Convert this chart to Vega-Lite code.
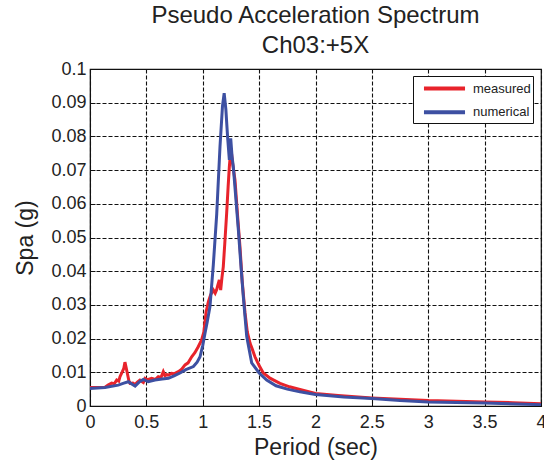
{
  "$schema": "https://vega.github.io/schema/vega-lite/v6.json",
  "autosize": "none",
  "width": 451,
  "height": 337,
  "padding": {"left": 90, "top": 69, "right": 3, "bottom": 59},
  "background": "white",
  "config": {
    "font": "Liberation Sans",
    "view": {"stroke": "#111", "strokeWidth": 1.2},
    "axis": {
      "domainColor": "#111",
      "tickColor": "#111",
      "gridColor": "#111",
      "gridDash": [4, 2],
      "gridWidth": 1.1,
      "gridOpacity": 1,
      "tickSize": -5
    }
  },
  "title": {
    "text": ["Pseudo Acceleration Spectrum", "Ch03:+5X"],
    "font": "Liberation Sans",
    "fontSize": 24,
    "fontWeight": "normal",
    "color": "#222",
    "lineHeight": 30,
    "anchor": "middle",
    "offset": 2
  },
  "data": {
    "values": [
      {"p": 0, "s": 0.0055, "series": "measured"},
      {"p": 0.1, "s": 0.0055, "series": "measured"},
      {"p": 0.133, "s": 0.0056, "series": "measured"},
      {"p": 0.16, "s": 0.0062, "series": "measured"},
      {"p": 0.192, "s": 0.0068, "series": "measured"},
      {"p": 0.215, "s": 0.0066, "series": "measured"},
      {"p": 0.237, "s": 0.0077, "series": "measured"},
      {"p": 0.255, "s": 0.0074, "series": "measured"},
      {"p": 0.266, "s": 0.0087, "series": "measured"},
      {"p": 0.287, "s": 0.0102, "series": "measured"},
      {"p": 0.3, "s": 0.0112, "series": "measured"},
      {"p": 0.31, "s": 0.013, "series": "measured"},
      {"p": 0.32, "s": 0.0115, "series": "measured"},
      {"p": 0.331, "s": 0.0097, "series": "measured"},
      {"p": 0.345, "s": 0.0075, "series": "measured"},
      {"p": 0.355, "s": 0.0067, "series": "measured"},
      {"p": 0.38, "s": 0.0068, "series": "measured"},
      {"p": 0.4, "s": 0.0064, "series": "measured"},
      {"p": 0.42, "s": 0.0071, "series": "measured"},
      {"p": 0.443, "s": 0.0077, "series": "measured"},
      {"p": 0.46, "s": 0.0073, "series": "measured"},
      {"p": 0.473, "s": 0.007, "series": "measured"},
      {"p": 0.488, "s": 0.0082, "series": "measured"},
      {"p": 0.51, "s": 0.0078, "series": "measured"},
      {"p": 0.547, "s": 0.0082, "series": "measured"},
      {"p": 0.58, "s": 0.0079, "series": "measured"},
      {"p": 0.606, "s": 0.0087, "series": "measured"},
      {"p": 0.63, "s": 0.0085, "series": "measured"},
      {"p": 0.65, "s": 0.0102, "series": "measured"},
      {"p": 0.665, "s": 0.009, "series": "measured"},
      {"p": 0.68, "s": 0.0093, "series": "measured"},
      {"p": 0.7, "s": 0.0092, "series": "measured"},
      {"p": 0.724, "s": 0.0097, "series": "measured"},
      {"p": 0.75, "s": 0.0096, "series": "measured"},
      {"p": 0.783, "s": 0.0102, "series": "measured"},
      {"p": 0.81, "s": 0.0108, "series": "measured"},
      {"p": 0.843, "s": 0.0122, "series": "measured"},
      {"p": 0.87, "s": 0.0128, "series": "measured"},
      {"p": 0.902, "s": 0.0146, "series": "measured"},
      {"p": 0.93, "s": 0.0158, "series": "measured"},
      {"p": 0.96, "s": 0.0176, "series": "measured"},
      {"p": 0.99, "s": 0.0196, "series": "measured"},
      {"p": 1.01, "s": 0.022, "series": "measured"},
      {"p": 1.03, "s": 0.028, "series": "measured"},
      {"p": 1.05, "s": 0.031, "series": "measured"},
      {"p": 1.07, "s": 0.033, "series": "measured"},
      {"p": 1.094, "s": 0.0344, "series": "measured"},
      {"p": 1.11, "s": 0.0335, "series": "measured"},
      {"p": 1.124, "s": 0.0346, "series": "measured"},
      {"p": 1.135, "s": 0.036, "series": "measured"},
      {"p": 1.147, "s": 0.0374, "series": "measured"},
      {"p": 1.159, "s": 0.0344, "series": "measured"},
      {"p": 1.17, "s": 0.038, "series": "measured"},
      {"p": 1.182, "s": 0.0413, "series": "measured"},
      {"p": 1.195, "s": 0.048, "series": "measured"},
      {"p": 1.212, "s": 0.0572, "series": "measured"},
      {"p": 1.225, "s": 0.065, "series": "measured"},
      {"p": 1.236, "s": 0.071, "series": "measured"},
      {"p": 1.25, "s": 0.0765, "series": "measured"},
      {"p": 1.265, "s": 0.072, "series": "measured"},
      {"p": 1.286, "s": 0.067, "series": "measured"},
      {"p": 1.31, "s": 0.056, "series": "measured"},
      {"p": 1.33, "s": 0.0473, "series": "measured"},
      {"p": 1.35, "s": 0.037, "series": "measured"},
      {"p": 1.375, "s": 0.0276, "series": "measured"},
      {"p": 1.395, "s": 0.022, "series": "measured"},
      {"p": 1.419, "s": 0.0187, "series": "measured"},
      {"p": 1.44, "s": 0.0168, "series": "measured"},
      {"p": 1.463, "s": 0.0146, "series": "measured"},
      {"p": 1.5, "s": 0.012, "series": "measured"},
      {"p": 1.537, "s": 0.0098, "series": "measured"},
      {"p": 1.6, "s": 0.0082, "series": "measured"},
      {"p": 1.685, "s": 0.0067, "series": "measured"},
      {"p": 1.77, "s": 0.0057, "series": "measured"},
      {"p": 1.862, "s": 0.0049, "series": "measured"},
      {"p": 2.0, "s": 0.0037, "series": "measured"},
      {"p": 2.2, "s": 0.0031, "series": "measured"},
      {"p": 2.5, "s": 0.0024, "series": "measured"},
      {"p": 2.75, "s": 0.002, "series": "measured"},
      {"p": 3.0, "s": 0.0016, "series": "measured"},
      {"p": 3.25, "s": 0.0014, "series": "measured"},
      {"p": 3.5, "s": 0.0012, "series": "measured"},
      {"p": 3.75, "s": 0.001, "series": "measured"},
      {"p": 4.0, "s": 0.0007, "series": "measured"},
      {"p": 0, "s": 0.0052, "series": "numerical"},
      {"p": 0.133, "s": 0.0055, "series": "numerical"},
      {"p": 0.25, "s": 0.0062, "series": "numerical"},
      {"p": 0.3, "s": 0.0068, "series": "numerical"},
      {"p": 0.34, "s": 0.0072, "series": "numerical"},
      {"p": 0.37, "s": 0.0065, "series": "numerical"},
      {"p": 0.4, "s": 0.0059, "series": "numerical"},
      {"p": 0.44, "s": 0.0072, "series": "numerical"},
      {"p": 0.473, "s": 0.0079, "series": "numerical"},
      {"p": 0.517, "s": 0.0072, "series": "numerical"},
      {"p": 0.576, "s": 0.0077, "series": "numerical"},
      {"p": 0.64, "s": 0.008, "series": "numerical"},
      {"p": 0.695, "s": 0.0082, "series": "numerical"},
      {"p": 0.75, "s": 0.009, "series": "numerical"},
      {"p": 0.798, "s": 0.0098, "series": "numerical"},
      {"p": 0.85, "s": 0.0108, "series": "numerical"},
      {"p": 0.917, "s": 0.0117, "series": "numerical"},
      {"p": 0.95, "s": 0.013, "series": "numerical"},
      {"p": 0.976, "s": 0.0146, "series": "numerical"},
      {"p": 1.0, "s": 0.018, "series": "numerical"},
      {"p": 1.02, "s": 0.0216, "series": "numerical"},
      {"p": 1.04, "s": 0.025, "series": "numerical"},
      {"p": 1.064, "s": 0.0295, "series": "numerical"},
      {"p": 1.094, "s": 0.042, "series": "numerical"},
      {"p": 1.124, "s": 0.057, "series": "numerical"},
      {"p": 1.153, "s": 0.077, "series": "numerical"},
      {"p": 1.175, "s": 0.089, "series": "numerical"},
      {"p": 1.19, "s": 0.0928, "series": "numerical"},
      {"p": 1.205, "s": 0.088, "series": "numerical"},
      {"p": 1.22, "s": 0.08, "series": "numerical"},
      {"p": 1.236, "s": 0.073, "series": "numerical"},
      {"p": 1.248, "s": 0.0794, "series": "numerical"},
      {"p": 1.26, "s": 0.074, "series": "numerical"},
      {"p": 1.271, "s": 0.071, "series": "numerical"},
      {"p": 1.295, "s": 0.061, "series": "numerical"},
      {"p": 1.316, "s": 0.0522, "series": "numerical"},
      {"p": 1.34, "s": 0.041, "series": "numerical"},
      {"p": 1.36, "s": 0.0324, "series": "numerical"},
      {"p": 1.39, "s": 0.0206, "series": "numerical"},
      {"p": 1.434, "s": 0.0128, "series": "numerical"},
      {"p": 1.5, "s": 0.0098, "series": "numerical"},
      {"p": 1.567, "s": 0.0077, "series": "numerical"},
      {"p": 1.65, "s": 0.006, "series": "numerical"},
      {"p": 1.75, "s": 0.005, "series": "numerical"},
      {"p": 1.862, "s": 0.0042, "series": "numerical"},
      {"p": 2.0, "s": 0.0034, "series": "numerical"},
      {"p": 2.25, "s": 0.0027, "series": "numerical"},
      {"p": 2.5, "s": 0.0022, "series": "numerical"},
      {"p": 2.75, "s": 0.0016, "series": "numerical"},
      {"p": 3.0, "s": 0.0012, "series": "numerical"},
      {"p": 3.5, "s": 0.0009, "series": "numerical"},
      {"p": 4.0, "s": 0.0004, "series": "numerical"}
    ]
  },
  "mark": {"type": "line", "strokeWidth": 3, "clip": true},
  "encoding": {
    "x": {
      "field": "p",
      "type": "quantitative",
      "title": "Period (sec)",
      "scale": {"domain": [0, 4], "nice": false},
      "axis": {"values": [0, 0.5, 1, 1.5, 2, 2.5, 3, 3.5, 4], "format": "~g", "labelPadding": 12, "titlePadding": 5, "labelFlush": false, "labelFont": "Liberation Sans", "labelFontSize": 18, "labelColor": "#222", "titleFont": "Liberation Sans", "titleFontSize": 23, "titleFontWeight": "normal", "titleColor": "#222"}
    },
    "y": {
      "field": "s",
      "type": "quantitative",
      "title": "Spa (g)",
      "scale": {"domain": [0, 0.1], "nice": false},
      "axis": {"values": [0, 0.01, 0.02, 0.03, 0.04, 0.05, 0.06, 0.07, 0.08, 0.09, 0.1], "format": "~g", "labelPadding": 9, "titlePadding": 13, "labelFlush": false, "labelFont": "Liberation Sans", "labelFontSize": 18, "labelColor": "#222", "titleFont": "Liberation Sans", "titleFontSize": 23, "titleFontWeight": "normal", "titleColor": "#222"}
    },
    "color": {
      "field": "series",
      "type": "nominal",
      "scale": {"domain": ["measured", "numerical"], "range": ["#e8232b", "#3d50a2"]},
      "legend": {
        "title": null,
        "orient": "none",
        "legendX": 323,
        "legendY": 7,
        "symbolType": "M-0.18,0H4.65",
        "symbolSize": 289,
        "symbolStrokeWidth": 4,
        "labelFont": "Liberation Sans",
        "labelFontSize": 13,
        "labelColor": "#222",
        "labelOffset": 37,
        "strokeColor": "#111",
        "fillColor": "white",
        "padding": 2,
        "rowPadding": 4.7
      }
    }
  }
}
